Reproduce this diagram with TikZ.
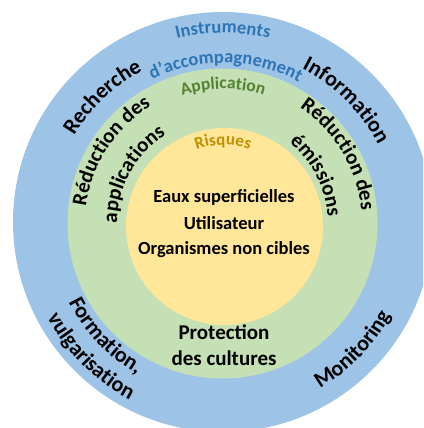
\documentclass[tikz,border=0pt]{standalone}
\usepackage{fontspec}
\setmainfont{Carlito}
\usetikzlibrary{decorations.text}
\definecolor{outerblue}{HTML}{9DC3E6}
\definecolor{midgreen}{HTML}{C5E0B4}
\definecolor{innyellow}{HTML}{FFE699}
\definecolor{insttext}{HTML}{2E75B6}
\definecolor{apptext}{HTML}{548235}
\definecolor{risktext}{HTML}{BF9000}
\newcommand\fOuter{\bfseries\fontsize{22}{22}\selectfont}
\newcommand\fGreen{\bfseries\fontsize{21}{21}\selectfont}
\newcommand\fInst{\bfseries\fontsize{18.5}{18.5}\selectfont\color{insttext}}
\newcommand\fApp{\bfseries\fontsize{17.5}{17.5}\selectfont\color{apptext}}
\newcommand\fRisk{\bfseries\fontsize{17}{17}\selectfont\color{risktext}}
% clockwise arc text (text outside): radius, centre angle, font, text
\newcommand\cwtext[4]{%
  \path[decorate,decoration={text along path,text align=center,text={|#3|#4}}]
    (O) ++(#2+60:#1pt) arc[start angle=#2+60,end angle=#2-60,radius=#1pt];}
% counter-clockwise arc text (text inside)
\newcommand\ccwtext[4]{%
  \path[decorate,decoration={text along path,text align=center,text={|#3|#4}}]
    (O) ++(#2-60:#1pt) arc[start angle=#2-60,end angle=#2+60,radius=#1pt];}
\tikzset{
  ctext/.style={font=\bfseries\fontsize{18.5}{18.5}\selectfont, inner sep=0pt, text=black},
  ptext/.style={font=\bfseries\fontsize{21}{21}\selectfont, inner sep=0pt, text=black}
}
\begin{document}
\begin{tikzpicture}[x=1pt,y=1pt]
\fill[white] (0,0) rectangle (423,428);
\clip (0,0) rectangle (423,428);
\fill[outerblue] (223,206) circle[radius=210pt];
\fill[midgreen] (222.5,204.5) circle[radius=155pt];
\fill[innyellow] (224.5,201.5) circle[radius=98.5pt];
\coordinate (O) at (223,204);
% top titles
\cwtext{191}{90}{\fInst}{Instruments}
\cwtext{161}{89}{\fInst}{d'accompagnement}
\cwtext{135}{90}{\fApp}{Application}
\cwtext{79}{90}{\fRisk}{Risques}
% outer ring
\cwtext{173}{133.5}{\fOuter}{Recherche}
\cwtext{174}{45}{\fOuter}{Information}
\ccwtext{191}{-44}{\fOuter}{Monitoring}
\ccwtext{173}{223.5}{\fOuter}{Formation,}
\ccwtext{199}{225}{\fOuter}{vulgarisation}
% green ring
\cwtext{138}{147}{\fGreen}{Réduction des}
\cwtext{106}{151}{\fGreen}{applications}
\cwtext{139}{31}{\fGreen}{Réduction des}
\cwtext{105}{27.5}{\fGreen}{émissions}
% centre
\node[ctext] (eaux) at (224,231) {Eaux superficielles};
\node[ctext] (util) at (224,205) {Utilisateur};
\node[ctext] (orga) at (224,178) {Organismes non cibles};
\node[ptext] (prot) at (224,96) {Protection};
\node[ptext] (cult) at (224,70) {des cultures};
\end{tikzpicture}
\end{document}
